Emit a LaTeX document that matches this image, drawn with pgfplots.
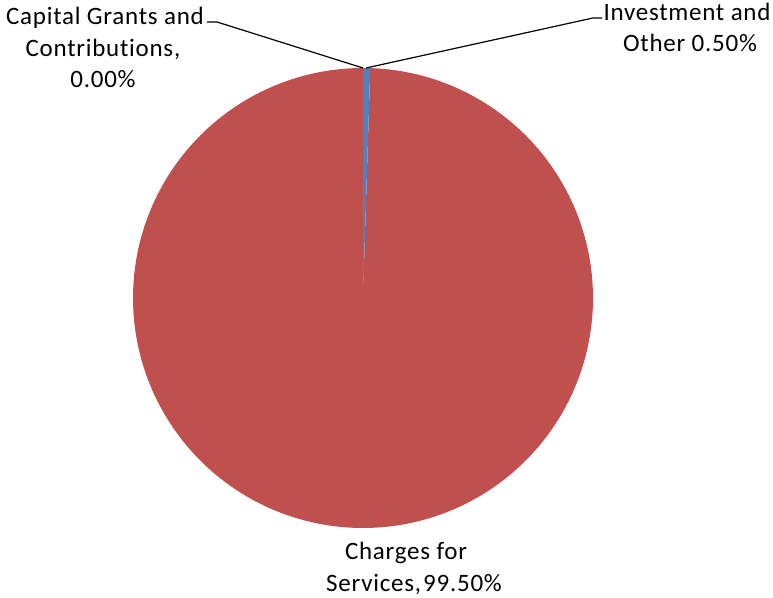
\documentclass[border=0pt]{standalone}
\usepackage{pgfplots}
\pgfplotsset{compat=1.18}
\usepackage{fontspec}
\setmainfont{Carlito}[LetterSpace=3, Ligatures=NoCommon]
\definecolor{pieRed}{HTML}{C0504D}
\definecolor{pieBlue}{HTML}{4F81BD}
\newcommand{\lblfont}{\fontsize{25bp}{30bp}\selectfont}
\tikzset{lbl/.style={anchor=base, inner sep=0pt, font=\lblfont}}
% data (percent)
\def\vInv{0.50}
\def\vCap{0.00}
\def\vChg{99.50}
\begin{document}
\begin{tikzpicture}
\pgfmathsetmacro{\aStart}{90}
\pgfmathsetmacro{\aInv}{\aStart-3.6*\vInv}
\pgfmathsetmacro{\aCap}{\aInv-3.6*\vCap}
\pgfmathsetmacro{\aChg}{\aCap-3.6*\vChg}
\begin{axis}[
  scale only axis, width=773bp, height=598bp,
  xmin=0, xmax=773, ymin=0, ymax=598,
  hide axis, clip=false,
]
% Charges for Services
\addplot[fill=pieRed, draw=none, domain=\aChg:\aCap, samples=360, smooth]
  ({363+230*cos(x)},{300+230*sin(x)}) -- (363,300) -- cycle;
% Investment and Other
\addplot[fill=pieBlue, draw=none, domain=\aInv:\aStart, samples=10]
  ({363+230*cos(x)},{300+230*sin(x)}) -- (363,300) -- cycle;
% leader lines
\addplot[black, line width=1.2bp] coordinates {(207,576) (217,576) (363,530)};
\addplot[black, line width=1.2bp] coordinates {(602,580) (593,580) (366,530)};
% labels
\node[lbl] at (105,573) {Capital Grants and};
\node[lbl] at (103,541) {Contributions,};
\node[lbl] at (103,510) {0.00\%};
\node[lbl] at (687,577) {Investment and};
\node[lbl] at (690,546) {Other 0.50\%};
\node[lbl] at (406,38) {Charges for};
\node[lbl] at (414,6) {Services,\kern2bp99.50\%};
\end{axis}
\pgfresetboundingbox
\path[use as bounding box] (0,0) rectangle (773bp,598bp);
\end{tikzpicture}
\end{document}
